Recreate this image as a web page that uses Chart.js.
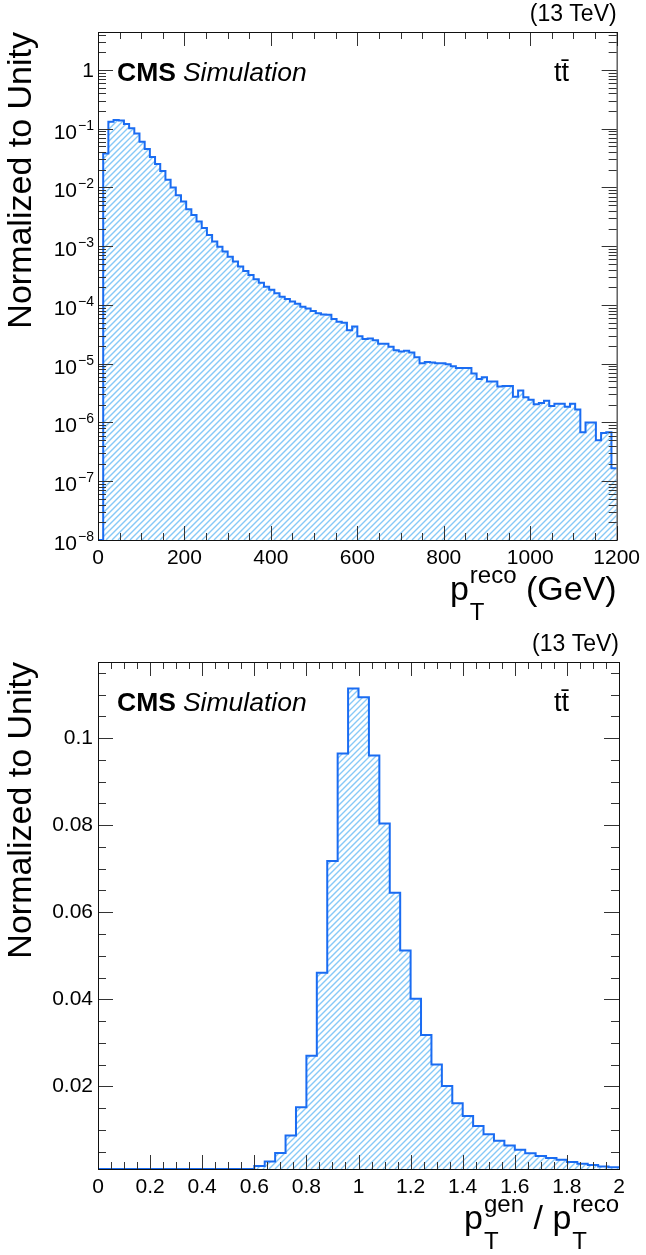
<!DOCTYPE html>
<html><head><meta charset="utf-8">
<script src="https://cdn.jsdelivr.net/npm/chart.js@4.4.1/dist/chart.umd.min.js"></script>
<style>
html,body{margin:0;padding:0;background:#fff;}
#wrap{position:relative;width:646px;height:1255px;overflow:hidden;}
canvas{position:absolute;left:0;}
</style></head><body>
<div id="wrap">
<canvas id="c1" width="646" height="627" style="top:0"></canvas>
<canvas id="c2" width="646" height="628" style="top:627px"></canvas>
</div>
<script>
// ---------------- data: top panel (pT reco) ----------------
const ptRecoMin = 0, ptRecoMax = 1200, ptRecoNBins = 100;
const ptRecoValues = [
  0, 3.8e-2, 1.32e-1, 1.41e-1, 1.38e-1, 1.20e-1, 1.02e-1, 8.3e-2, 6.0e-2, 4.5e-2,
  3.3e-2, 2.5e-2, 1.9e-2, 1.35e-2, 1.0e-2, 7.4e-3, 5.75e-3, 4.27e-3, 3.39e-3, 2.63e-3,
  2.04e-3, 1.55e-3, 1.20e-3, 9.8e-4, 8.1e-4, 6.6e-4, 5.5e-4, 4.5e-4, 3.8e-4, 3.24e-4,
  2.75e-4, 2.40e-4, 2.04e-4, 1.82e-4, 1.58e-4, 1.38e-4, 1.26e-4, 1.15e-4, 1.05e-4, 9.3e-5,
  8.7e-5, 7.9e-5, 7.2e-5, 6.9e-5, 6.8e-5, 5.8e-5, 5.2e-5, 5.0e-5, 3.7e-5, 4.3e-5,
  2.95e-5, 2.63e-5, 2.69e-5, 2.51e-5, 2.19e-5, 2.19e-5, 1.95e-5, 1.70e-5, 1.62e-5, 1.66e-5,
  1.55e-5, 1.29e-5, 1.02e-5, 1.07e-5, 1.05e-5, 1.02e-5, 1.02e-5, 9.8e-6, 9.1e-6, 8.5e-6,
  8.5e-6, 8.5e-6, 6.8e-6, 5.5e-6, 5.9e-6, 5.0e-6, 5.0e-6, 4.1e-6, 4.2e-6, 4.2e-6,
  2.75e-6, 3.5e-6, 2.7e-6, 2.45e-6, 2.04e-6, 2.14e-6, 2.34e-6, 1.9e-6, 2.09e-6, 2.09e-6,
  1.86e-6, 2.09e-6, 1.66e-6, 6.8e-7, 1.0e-6, 1.0e-6, 5.0e-7, 6.6e-7, 6.8e-7, 1.66e-7
];
const ptRecoYRange = [1e-8, 4.43];
const ptRecoXTicks = [0, 200, 400, 600, 800, 1000, 1200];
const ptRecoYTickExps = [0, -1, -2, -3, -4, -5, -6, -7, -8];
const ptRecoYTickLabels = ['1', '10^\u22121', '10^\u22122', '10^\u22123', '10^\u22124',
  '10^\u22125', '10^\u22126', '10^\u22127', '10^\u22128'];

// ---------------- data: bottom panel (pT gen / pT reco) ----------------
const ratioMin = 0, ratioMax = 2, ratioNBins = 50;
const ratioValues = [
  0, 0, 0, 0, 0, 0, 0, 0, 0, 0,
  0, 0, 0, 0, 0, 0.0017, 0.0027, 0.0047, 0.0087, 0.0152,
  0.0270, 0.0461, 0.0718, 0.0965, 0.1114, 0.1094, 0.0960, 0.0804, 0.0645, 0.0512,
  0.0401, 0.0318, 0.0250, 0.0201, 0.0161, 0.0132, 0.0109, 0.0090, 0.0075, 0.0064,
  0.0054, 0.0046, 0.0040, 0.0035, 0.0031, 0.0026, 0.0022, 0.0019, 0.0016, 0.0014
];
const ratioYRange = [0.001, 0.1175];
const ratioXTicks = [0, 0.2, 0.4, 0.6, 0.8, 1, 1.2, 1.4, 1.6, 1.8, 2];
const ratioXTickLabels = ['0', '0.2', '0.4', '0.6', '0.8', '1', '1.2', '1.4', '1.6', '1.8', '2'];
const ratioYTicks = [0.02, 0.04, 0.06, 0.08, 0.1];
const ratioYTickLabels = ['0.02', '0.04', '0.06', '0.08', '0.1'];

const yTitle = 'Normalized to Unity';
const energyLabel = '(13 TeV)';
const processLabel = 't' + 't\u0304';

// ---------------- helpers ----------------
const FONT = '"Liberation Sans", Arial, Helvetica, sans-serif';
const LINE_COLOR = '#1a6cf2';
const HATCH_COLOR = 'rgb(135,201,247)';
const HATCH_WIDTH = 1.4;
const HATCH_STEP = 6;

function histPoints(min, max, n, values, yMin) {
  const w = (max - min) / n;
  const pts = values.map((v, i) => ({x: min + i * w, y: Math.max(v, yMin)}));
  pts.push({x: max, y: Math.max(values[values.length - 1], yMin)});
  return pts;
}

// hatch fill under the step line, clipped to the region built from the
// dataset's own element positions (computed by Chart.js scales)
const hatchPlugin = {
  id: 'hatch',
  beforeDatasetsDraw(chart) {
    const ctx = chart.ctx, a = chart.chartArea;
    const pts = chart.getDatasetMeta(0).data;
    if (!pts.length) return;
    ctx.save();
    ctx.beginPath();
    ctx.rect(a.left, a.top, a.right - a.left, a.bottom - a.top);
    ctx.clip();
    ctx.beginPath();
    ctx.moveTo(pts[0].x, a.bottom);
    for (let i = 0; i < pts.length - 1; i++) {
      ctx.lineTo(pts[i].x, pts[i].y);
      ctx.lineTo(pts[i + 1].x, pts[i].y);
    }
    ctx.lineTo(pts[pts.length - 1].x, a.bottom);
    ctx.closePath();
    ctx.clip();
    ctx.strokeStyle = HATCH_COLOR;
    ctx.lineWidth = HATCH_WIDTH;
    ctx.beginPath();
    const h = a.bottom - a.top;
    for (let x = a.left - h; x < a.right + HATCH_STEP; x += HATCH_STEP) {
      ctx.moveTo(x, a.bottom);
      ctx.lineTo(x + h, a.top);
    }
    ctx.stroke();
    ctx.restore();
  }
};

function drawScript(ctx, rightX, baseY, segs) {
  const big = 34, small = 24;
  const fb = big + 'px ' + FONT, fs = small + 'px ' + FONT;
  let total = 0;
  const widths = segs.map(s => {
    if (s.text !== undefined) { ctx.font = fb; return ctx.measureText(s.text).width; }
    ctx.font = fb; const wm = ctx.measureText(s.main).width;
    ctx.font = fs; const ws = Math.max(ctx.measureText(s.sub).width, ctx.measureText(s.sup).width);
    return wm + ws + 1;
  });
  widths.forEach(w => total += w);
  let x = rightX - total;
  ctx.textAlign = 'left';
  ctx.textBaseline = 'alphabetic';
  segs.forEach((s, i) => {
    if (s.text !== undefined) { ctx.font = fb; ctx.fillText(s.text, x, baseY); }
    else {
      ctx.font = fb; ctx.fillText(s.main, x, baseY);
      const wm = ctx.measureText(s.main).width;
      ctx.font = fs;
      ctx.fillText(s.sup, x + wm + 1, baseY - 17);
      ctx.fillText(s.sub, x + wm + 1, baseY + 20);
    }
    x += widths[i];
  });
}

function axisDecorPlugin(cfg) {
  return {
    id: 'decor',
    afterDraw(chart) {
      const ctx = chart.ctx, a = chart.chartArea;
      const xs = chart.scales.x, ys = chart.scales.y;
      ctx.save();
      ctx.strokeStyle = '#333';
      ctx.lineWidth = 1;
      ctx.beginPath();
      cfg.xMinor.forEach(v => {
        const p = Math.round(xs.getPixelForValue(v)) + 0.5;
        ctx.moveTo(p, a.bottom); ctx.lineTo(p, a.bottom - 7);
        ctx.moveTo(p, a.top); ctx.lineTo(p, a.top + 7);
      });
      cfg.xMajor.forEach(v => {
        const p = Math.round(xs.getPixelForValue(v)) + 0.5;
        ctx.moveTo(p, a.bottom); ctx.lineTo(p, a.bottom - 14);
        ctx.moveTo(p, a.top); ctx.lineTo(p, a.top + 14);
      });
      cfg.yMinor.forEach(v => {
        const p = Math.round(ys.getPixelForValue(v)) + 0.5;
        ctx.moveTo(a.left, p); ctx.lineTo(a.left + 8, p);
        ctx.moveTo(a.right, p); ctx.lineTo(a.right - 8, p);
      });
      cfg.yMajor.forEach(v => {
        const p = Math.round(ys.getPixelForValue(v)) + 0.5;
        ctx.moveTo(a.left, p); ctx.lineTo(a.left + 15, p);
        ctx.moveTo(a.right, p); ctx.lineTo(a.right - 15, p);
      });
      ctx.stroke();
      ctx.strokeStyle = '#111';
      ctx.strokeRect(a.left + 0.5, a.top + 0.5, a.right - a.left, a.bottom - a.top);

      ctx.fillStyle = '#000';
      ctx.textBaseline = 'alphabetic';

      if (cfg.logLabels) {
        cfg.logLabels.exps.forEach((e, i) => {
          const p = ys.getPixelForValue(Math.pow(10, e));
          const parts = cfg.logLabels.labels[i].split('^');
          const xr = a.left - 4;
          if (parts.length === 1) {
            ctx.font = '21px ' + FONT; ctx.textAlign = 'right';
            ctx.fillText(parts[0], xr, p + 7);
          } else {
            ctx.font = '14px ' + FONT; ctx.textAlign = 'right';
            const ws = ctx.measureText(parts[1]).width;
            ctx.fillText(parts[1], xr, p + 1);
            ctx.font = '21px ' + FONT;
            ctx.fillText(parts[0], xr - ws - 1, p + 10);
          }
        });
      }

      ctx.font = '23px ' + FONT;
      ctx.textAlign = 'right';
      ctx.fillText(energyLabel, a.right, a.top - 11);

      ctx.textAlign = 'left';
      const bx = a.left + 19, by = a.top + 49;
      ctx.font = 'bold 26.5px ' + FONT;
      ctx.fillText('CMS', bx, by);
      const wc = ctx.measureText('CMS').width;
      ctx.font = 'italic 26.5px ' + FONT;
      ctx.fillText('Simulation', bx + wc + 7, by);

      ctx.font = '27px ' + FONT;
      ctx.fillText(processLabel, a.left + 456, by);

      ctx.save();
      ctx.translate(31, a.top);
      ctx.rotate(-Math.PI / 2);
      ctx.textAlign = 'right';
      ctx.font = '34px ' + FONT;
      ctx.fillText(yTitle, 0, 0);
      ctx.restore();

      drawScript(ctx, a.right, a.bottom + 60, cfg.xTitle);
      ctx.restore();
    }
  };
}

function baseOptions(xCfg, yCfg) {
  return {
    responsive: false, animation: false, devicePixelRatio: 1,
    layout: {padding: {left: 0, right: 27, top: yCfg.top, bottom: 0}},
    plugins: {legend: {display: false}, tooltip: {enabled: false}},
    scales: {
      x: Object.assign({
        afterFit(s) { s.height = xCfg.height; },
        grid: {display: false, drawTicks: false},
        border: {display: false},
      }, xCfg.scale),
      y: Object.assign({
        afterFit(s) { s.width = 98; },
        grid: {display: false, drawTicks: false},
        border: {display: false},
      }, yCfg.scale)
    }
  };
}

// ---------------- top chart ----------------
(function () {
  const cv = document.getElementById('c1');
  const xMinor = [], xMajor = ptRecoXTicks.slice();
  for (let v = 50; v < 1200; v += 50) if (v % 200) xMinor.push(v);
  const yMajor = ptRecoYTickExps.map(e => Math.pow(10, e));
  const yMinor = [];
  for (let e = -8; e <= 0; e++) for (let m = 2; m <= 9; m++) {
    const v = m * Math.pow(10, e);
    if (v < ptRecoYRange[1]) yMinor.push(v);
  }
  const opts = baseOptions(
    {height: 87, scale: {type: 'linear', min: ptRecoMin, max: ptRecoMax,
      ticks: {stepSize: 200, padding: 6, autoSkip: false, maxRotation: 0, color: '#000',
        font: {family: FONT, size: 21},
        callback: v => (ptRecoXTicks.indexOf(v) >= 0 ? String(v) : '')}}},
    {top: 32, scale: {type: 'logarithmic', min: ptRecoYRange[0], max: ptRecoYRange[1],
      ticks: {display: false}}}
  );
  new Chart(cv, {
    type: 'line',
    data: {datasets: [{
      data: histPoints(ptRecoMin, ptRecoMax, ptRecoNBins, ptRecoValues, ptRecoYRange[0]),
      stepped: 'before', borderColor: LINE_COLOR, borderWidth: 2, pointRadius: 0,
      fill: false, tension: 0
    }]},
    options: opts,
    plugins: [hatchPlugin, axisDecorPlugin({
      xMinor, xMajor, yMinor, yMajor,
      logLabels: {exps: ptRecoYTickExps, labels: ptRecoYTickLabels},
      xTitle: [{main: 'p', sub: 'T', sup: 'reco'}, {text: ' (GeV)'}]
    })]
  });
})();

// ---------------- bottom chart ----------------
(function () {
  const cv = document.getElementById('c2');
  const xMinor = [];
  for (let i = 1; i < 40; i++) if (i % 4) xMinor.push(i * 0.05);
  const xMajor = ratioXTicks.slice();
  const yMinor = [];
  for (let i = 1; i * 0.005 < ratioYRange[1]; i++) if (i % 4) yMinor.push(i * 0.005);
  const yMajor = ratioYTicks.slice();
  const opts = baseOptions(
    {height: 86, scale: {type: 'linear', min: ratioMin, max: ratioMax,
      ticks: {stepSize: 0.2, padding: 6, autoSkip: false, maxRotation: 0, color: '#000',
        font: {family: FONT, size: 21},
        callback: v => {
          for (let k = 0; k < ratioXTicks.length; k++)
            if (Math.abs(ratioXTicks[k] - v) < 1e-6) return ratioXTickLabels[k];
          return '';
        }}}},
    {top: 35, scale: {type: 'linear', min: ratioYRange[0], max: ratioYRange[1],
      ticks: {stepSize: 0.02, padding: 5, autoSkip: false, color: '#000', font: {family: FONT, size: 21},
        callback: v => {
          for (let k = 0; k < ratioYTicks.length; k++)
            if (Math.abs(ratioYTicks[k] - v) < 1e-6) return ratioYTickLabels[k];
          return '';
        }}}}
  );
  new Chart(cv, {
    type: 'line',
    data: {datasets: [{
      data: histPoints(ratioMin, ratioMax, ratioNBins, ratioValues, ratioYRange[0]),
      stepped: 'before', borderColor: LINE_COLOR, borderWidth: 2, pointRadius: 0,
      fill: false, tension: 0
    }]},
    options: opts,
    plugins: [hatchPlugin, axisDecorPlugin({
      xMinor, xMajor, yMinor, yMajor,
      xTitle: [{main: 'p', sub: 'T', sup: 'gen'}, {text: ' / '}, {main: 'p', sub: 'T', sup: 'reco'}]
    })]
  });
})();
</script>
</body></html>
